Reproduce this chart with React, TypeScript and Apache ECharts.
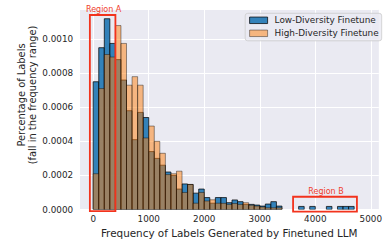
import React, { useEffect, useRef } from "react";
import * as echarts from "echarts";

// Histogram bins (left edges) and width
const binStart = [
  0, 100, 200, 300, 400, 500, 600, 700, 800, 900,
  1000, 1100, 1200, 1300, 1400, 1500, 1600, 1700, 1800, 1900,
  2000, 2100, 2200, 2300, 2400, 2500, 2600, 2700, 2800, 2900,
  3000, 3100, 3200, 3300, 3400, 3500, 3600, 3700, 3800, 3900,
  4000, 4100, 4200, 4300, 4400, 4500, 4600, 4700, 4800, 4900,
];
const binWidth = 100;

const lowDiversity = [
  0.00075, 0.00095, 0.00112, 0.000975, 0.00088, 0.00076, 0.00058, 0.00041, 0.00057, 0.00054,
  0.00034, 0.0003, 0.00026, 0.00022, 0.0002, 0.00012, 0.00015, 0.000147, 0.000096, 0.00012,
  0.00007, 0.000037, 0.00007, 0.00007, 0.00004, 0.000056, 0.000046, 0.00003, 0.00003, 0.000026,
  0.00002, 0.000032, 0.000046, 0.00002, 0, 0, 0, 0.000018, 0, 0.000018,
  0, 0, 0.000018, 0, 0.000018, 0.000018, 0.000018, 0, 0, 0,
];
const highDiversity = [
  0.00021, 0.00071, 0.00091, 0.000895, 0.00108, 0.000975, 0.00073, 0.00078, 0.00073, 0.00042,
  0.00049, 0.0004, 0.00033, 0.000205, 0.00021, 0.000225, 0.0001, 0.000147, 0.000037, 0.0001,
  0.00005, 0.000057, 0.000037, 0.000036, 0.00003, 0.000035, 0.00003, 0.00004, 0.000025, 0.00002,
  0.000015, 0.00001, 0.00001, 0.00001, 0, 0, 0, 0, 0, 0,
  0, 0, 0, 0, 0, 0, 0, 0, 0, 0,
];

const seriesNames = ["Low-Diversity Finetune", "High-Diversity Finetune"];
const seriesColors = ["#1f77b4", "#ff7f0e"];
const seriesOpacity = [0.9, 0.5];

const regionNames = ["Region A", "Region B"];
const regionXRange = [
  [-60, 400],
  [3600, 4750],
];
const regionYRange = [
  [-0.000009, 0.001142],
  [-0.000013, 0.000075],
];

const xMin = -245;
const xMax = 5145;
const yMax = 0.001176;

const FONT = "DejaVu Sans";
const TXT = "#262626";

export default function App() {
  const ref = useRef<HTMLDivElement>(null);

  useEffect(() => {
    if (!ref.current) return;
    const chart = echarts.init(ref.current, undefined, { renderer: "svg" });

    const histSeries = (idx: number, values: number[]) => ({
      type: "custom",
      name: seriesNames[idx],
      z: 2 + idx,
      clip: true,
      encode: { x: [0, 1], y: 2 },
      itemStyle: { color: seriesColors[idx], opacity: seriesOpacity[idx] },
      data: binStart
        .map((s, i) => [s, s + binWidth, values[i]])
        .filter((d) => d[2] > 0),
      renderItem: (params: any, api: any) => {
        const x0 = api.value(0);
        const x1 = api.value(1);
        const y = api.value(2);
        const p0 = api.coord([x0, y]);
        const p1 = api.coord([x1, 0]);
        return {
          type: "rect",
          shape: { x: p0[0], y: p0[1], width: p1[0] - p0[0], height: p1[1] - p0[1] },
          style: {
            fill: seriesColors[idx],
            stroke: "#000",
            lineWidth: 0.8,
            opacity: seriesOpacity[idx],
          },
        };
      },
    });

    const regionData = regionNames.map((n, i) => [
      regionXRange[i][0],
      regionXRange[i][1],
      regionYRange[i][0],
      regionYRange[i][1],
      n,
    ]);

    chart.setOption({
      animation: false,
      backgroundColor: "#ffffff",
      textStyle: { fontFamily: FONT },
      grid: {
        left: 79.6,
        top: 9.2,
        width: 304.5,
        height: 200.3,
        show: true,
        backgroundColor: "#EAEAF2",
        borderWidth: 0,
      },
      xAxis: {
        type: "value",
        min: xMin,
        max: xMax,
        minInterval: 1000,
        maxInterval: 1000,
        axisLine: { show: false },
        axisTick: { show: false },
        splitLine: { show: true, lineStyle: { color: "#ffffff", width: 1 } },
        axisLabel: {
          margin: 4.5,
          fontSize: 8.8,
          color: TXT,
          fontFamily: FONT,
          showMinLabel: false,
          showMaxLabel: false,
          formatter: (v: number) => (Math.abs(v % 1000) < 1e-6 ? String(v) : ""),
        },
        name: "Frequency of Labels Generated by Finetuned LLM",
        nameLocation: "middle",
        nameGap: 16.5,
        nameTextStyle: { fontSize: 10.4, color: TXT, fontFamily: FONT },
      },
      yAxis: {
        type: "value",
        min: 0,
        max: yMax,
        interval: 0.0002,
        axisLine: { show: false },
        axisTick: { show: false },
        splitLine: { show: true, lineStyle: { color: "#ffffff", width: 1 } },
        axisLabel: {
          margin: 6.5,
          fontSize: 8.8,
          color: TXT,
          fontFamily: FONT,
          showMaxLabel: false,
          formatter: (v: number) => v.toFixed(4),
        },
      },
      legend: {
        orient: "vertical",
        right: 3.3,
        top: 13.3,
        itemWidth: 18,
        itemHeight: 6.5,
        itemGap: 4,
        padding: [2.5, 3, 3, 4],
        selectedMode: false,
        backgroundColor: "rgba(234,234,242,0.8)",
        borderColor: "#cccccc",
        borderWidth: 0.8,
        borderRadius: 2.5,
        textStyle: { fontSize: 8.9, color: TXT, fontFamily: FONT, padding: [0, 0, 0, 2] },
        data: seriesNames.map((n, i) => ({
          name: n,
          icon: "rect",
          itemStyle: {
            color: seriesColors[i],
            borderColor: "#000",
            borderWidth: 0.8,
            opacity: seriesOpacity[i],
          },
        })),
      },
      graphic: [
        {
          type: "text",
          x: 26.5,
          y: 95,
          rotation: Math.PI / 2,
          style: {
            text: "Percentage of Labels\n(fall in the frequency range)",
            fontSize: 9.9,
            lineHeight: 11,
            fontFamily: FONT,
            fill: TXT,
            align: "center",
            verticalAlign: "middle",
          },
        },
      ],
      series: [
        histSeries(0, lowDiversity),
        histSeries(1, highDiversity),
        {
          type: "custom",
          z: 10,
          clip: false,
          silent: true,
          encode: { x: [0, 1], y: [2, 3] },
          data: regionData,
          renderItem: (params: any, api: any) => {
            const pTL = api.coord([api.value(0), api.value(3)]);
            const pBR = api.coord([api.value(1), api.value(2)]);
            const label = regionNames[params.dataIndex];
            return {
              type: "group",
              children: [
                {
                  type: "rect",
                  shape: {
                    x: pTL[0],
                    y: pTL[1],
                    width: pBR[0] - pTL[0],
                    height: pBR[1] - pTL[1],
                  },
                  style: { fill: "none", stroke: "#f2331d", lineWidth: 1.8 },
                },
                {
                  type: "text",
                  x: (pTL[0] + pBR[0]) / 2 + 1,
                  y: pTL[1] - 5,
                  style: {
                    text: label,
                    fontSize: 8,
                    fontFamily: FONT,
                    fill: "#f0402d",
                    align: "center",
                    verticalAlign: "middle",
                  },
                },
              ],
            };
          },
        },
      ],
    });

    return () => chart.dispose();
  }, []);

  return (
    <div
      ref={ref}
      style={{ position: "fixed", left: 0, top: 0, width: 385, height: 244 }}
    />
  );
}
